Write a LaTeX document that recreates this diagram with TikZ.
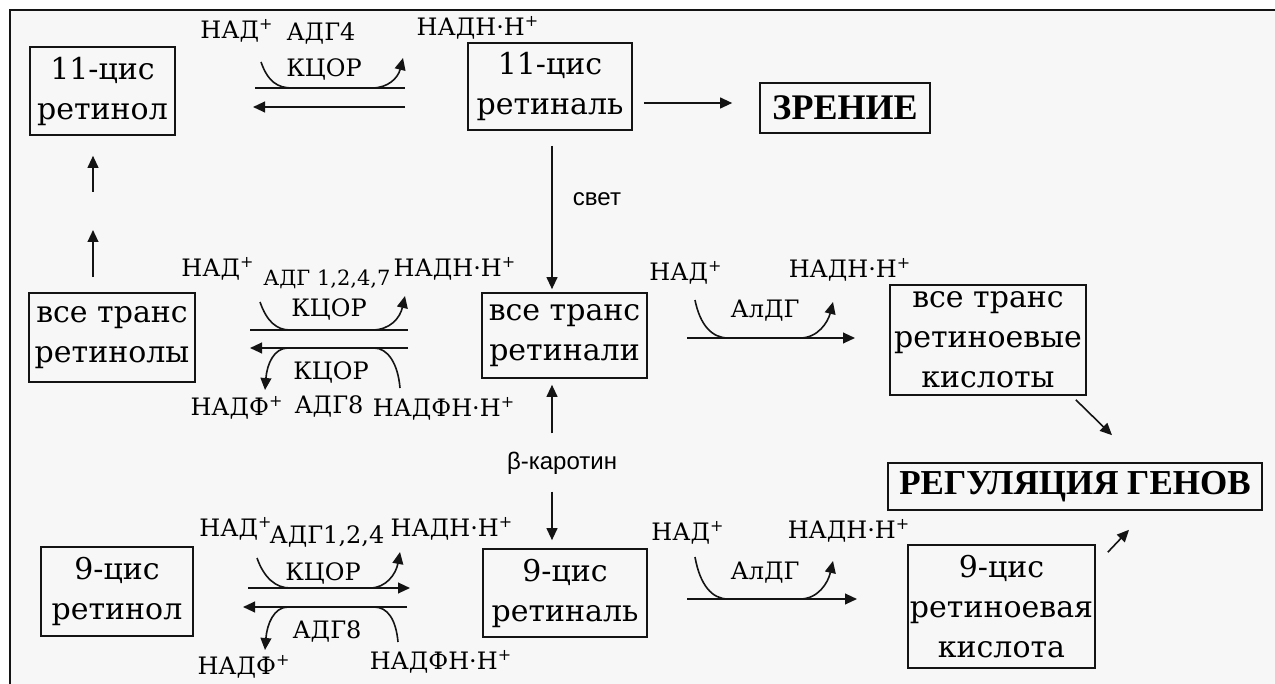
\documentclass[tikz,border=0pt]{standalone}
\usepackage{fontspec}
\setmainfont{DejaVu Serif}
\newfontfamily\headfont{Liberation Serif}
\newfontfamily\notefont{Liberation Sans}
\usetikzlibrary{arrows.meta,positioning,calc}
\definecolor{ink}{RGB}{20,20,20}
\definecolor{paper}{RGB}{247,247,247}
\tikzset{
  box/.style={draw=ink,line width=0.8pt,inner sep=0pt,align=center,
    font=\fontsize{15}{20}\selectfont},
  head/.style={draw=ink,line width=0.8pt,inner sep=0pt,
    font=\headfont\bfseries\fontsize{18}{20}\selectfont},
  cof/.style={inner sep=0pt,font=\fontsize{12}{14}\selectfont},
  enzs/.style={inner sep=0pt,font=\fontsize{10.5}{12}\selectfont},
  note/.style={inner sep=0pt,font=\notefont\fontsize{12}{14}\selectfont},
  arr/.style={-{Triangle[length=6pt,width=5.4pt]},line width=0.8pt,ink},
  bar/.style={line width=0.8pt,ink},
}
\newcommand{\plus}{\textsuperscript{+}}

\begin{document}
\begin{tikzpicture}[x=0.5pt,y=-0.5pt]
\useasboundingbox (0,0) rectangle (1275,684);
\fill[white] (0,0) rectangle (1275,684);
\fill[paper] (10,10) rectangle (1275,684);
\draw[ink,line width=1pt] (10,684) -- (10,10) -- (1275,10);

% boxes
\node[box,minimum width=72.5pt,minimum height=44pt] (r11) at (102.5,91) {11-цис\\ретинол};
\node[box,minimum width=82pt,minimum height=43.5pt] (al11) at (550,86.5) {11-цис\\ретиналь};
\node[head,minimum width=85pt,minimum height=25pt] (vision) at (845,108) {ЗРЕНИЕ};
\node[box,minimum width=83pt,minimum height=44.5pt] (rAT) at (112,337.5) {все транс\\ретинолы};
\node[box,minimum width=82.5pt,minimum height=42.5pt] (alAT) at (564.5,335.5) {все транс\\ретинали};
\node[box,minimum width=98pt,minimum height=55pt] (acAT) at (988,340) {все транс\\ретиноевые\\кислоты};
\node[head,minimum width=187pt,minimum height=23.5pt,font=\headfont\bfseries\fontsize{17.5}{20}\selectfont] (genes) at (1075,486.5) {РЕГУЛЯЦИЯ ГЕНОВ};
\node[box,minimum width=76pt,minimum height=44.5pt] (r9) at (117,591.5) {9-цис\\ретинол};
\node[box,minimum width=82pt,minimum height=44pt] (al9) at (565,593) {9-цис\\ретиналь};
\node[box,minimum width=93.5pt,minimum height=61.5pt] (ac9) at (1001.5,606.5) {9-цис\\ретиноевая\\кислота};

% labels of the 11-cis step
\node[cof] (nadA) at (237,31) {НАД\plus};
\node[cof] (adgA) at (321,33) {АДГ4};
\node[cof] (kcorA) at (324,69) {КЦОР};
\node[cof] (nadhA) at (478,28) {НАДН·Н\plus};
% labels of the all-trans step
\node[cof] (nadB) at (218,269) {НАД\plus};
\node[enzs] (adgB) at (327,279) {АДГ 1,2,4,7};
\node[cof] (kcorB) at (329,309) {КЦОР};
\node[cof] (nadhB) at (455,269) {НАДН·Н\plus};
\node[cof] (kcorBb) at (331,372) {КЦОР};
\node[cof] (nadfB) at (237,408) {НАДФ\plus};
\node[cof] (adg8B) at (329,406) {АДГ8};
\node[cof] (nadfhB) at (444,409) {НАДФН·Н\plus};
% labels of the 9-cis step
\node[cof] (nadC) at (236,529) {НАД\plus};
\node[cof] (adgC) at (327,536) {АДГ1,2,4};
\node[cof] (kcorC) at (323,573) {КЦОР};
\node[cof] (nadhC) at (452,529) {НАДН·Н\plus};
\node[cof] (adg8C) at (327,631) {АДГ8};
\node[cof] (nadfC) at (244,667) {НАДФ\plus};
\node[cof] (nadfhC) at (441,662) {НАДФН·Н\plus};
% aldehyde dehydrogenase steps
\node[cof] (nadD) at (686,273) {НАД\plus};
\node[cof] (aldgD) at (765,311) {АлДГ};
\node[cof] (nadhD) at (850,270) {НАДН·Н\plus};
\node[cof] (nadE) at (688,533) {НАД\plus};
\node[cof] (aldgE) at (765,573) {АлДГ};
\node[cof] (nadhE) at (849,531) {НАДН·Н\plus};
\node[note] (light) at (597,199) {свет};
\node[note] (car) at (562,463) {β-каротин};

% ends of the reaction lines
\coordinate (a1) at (255,88);  \coordinate (a2) at (405,88);
\coordinate (a3) at (405,107); \coordinate (a4) at (253,107);
\coordinate (aIn) at (261,62); \coordinate (aOut) at (403,58);
\coordinate (b1) at (250,330); \coordinate (b2) at (408,330);
\coordinate (b3) at (408,348); \coordinate (b4) at (250,348);
\coordinate (bIn) at (260,302); \coordinate (bOut) at (405,296);
\coordinate (bIn2) at (400,388); \coordinate (bOut2) at (265,390);
\coordinate (c1) at (248,588); \coordinate (c2) at (410,588);
\coordinate (c3) at (407,607); \coordinate (c4) at (243,607);
\coordinate (cIn) at (257,558); \coordinate (cOut) at (400,552);
\coordinate (cIn2) at (398,642); \coordinate (cOut2) at (265,650);
\coordinate (d1) at (687,338); \coordinate (d2) at (855,338);
\coordinate (dIn) at (695,300); \coordinate (dOut) at (833,302);
\coordinate (e1) at (687,599); \coordinate (e2) at (857,599);
\coordinate (eIn) at (695,557); \coordinate (eOut) at (833,561);
\coordinate (gapLo) at (93,230); \coordinate (gapHi) at (93,192);

% 11-cis retinol <-> retinal
\draw[bar] (a1) -- (a2);
\draw[arr] (a3) -- (a4);
\draw[arr] (aIn) .. controls (268,82) and (278,88) .. (292,88) -- (372,88)
  .. controls (388,88) and (398,78) .. (aOut);
% all-trans retinols <-> retinals
\draw[bar] (b1) -- (b2);
\draw[arr] (b3) -- (b4);
\draw[arr] (bIn) .. controls (267,322) and (277,330) .. (290,330) -- (372,330)
  .. controls (390,330) and (400,318) .. (bOut);
\draw[arr] (bIn2) .. controls (398,364) and (388,348) .. (374,348) -- (288,348)
  .. controls (274,348) and (267,364) .. (bOut2);
% 9-cis retinol <-> retinal
\draw[arr] (c1) -- (c2);
\draw[arr] (c3) -- (c4);
\draw[arr] (cIn) .. controls (264,578) and (276,588) .. (290,588) -- (370,588)
  .. controls (386,588) and (396,574) .. (cOut);
\draw[arr] (cIn2) .. controls (396,620) and (388,607) .. (374,607) -- (288,607)
  .. controls (274,607) and (267,624) .. (cOut2);
% retinals -> acids
\draw[arr] (d1) -- (d2);
\draw[arr] (dIn) .. controls (700,325) and (712,338) .. (728,338) -- (800,338)
  .. controls (818,338) and (828,322) .. (dOut);
\draw[arr] (e1) -- (e2);
\draw[arr] (eIn) .. controls (700,585) and (712,599) .. (728,599) -- (800,599)
  .. controls (818,599) and (828,583) .. (eOut);

% other arrows
\draw[arr] ([shift={(11,16.5)}]al11.east) -- ([shift={(-27,-5)}]vision.west);
\draw[arr] ([shift={(2,15)}]al11.south) -- ([shift={(-12.5,-3)}]alAT.north);
\draw[arr] ([shift={(-10,-18)}]car.north) -- ([shift={(-12.5,6)}]alAT.south);
\draw[arr] ([shift={(-10,17)}]car.south) -- ([shift={(-13,-8)}]al9.north);
\draw[arr] ([shift={(-19,-15)}]rAT.north) -- (gapLo);
\draw[arr] (gapHi) -- ([shift={(-9.5,20)}]r11.south);
\draw[arr] ([shift={(-11,4)}]acAT.south east) -- ([shift={(37,-27)}]genes.north);
\draw[arr] ([shift={(12,8)}]ac9.north east) -- ([shift={(54,19)}]genes.south);
\end{tikzpicture}
\end{document}
